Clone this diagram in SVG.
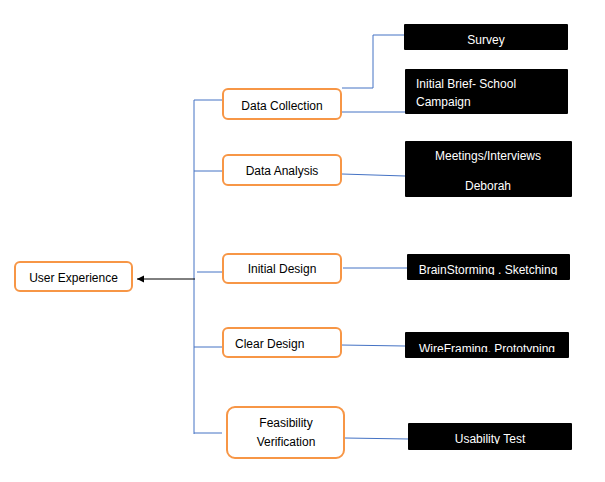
<svg xmlns="http://www.w3.org/2000/svg" width="605" height="482" viewBox="0 0 605 482">
<style>
.n{fill:#fff;stroke:#F79646;stroke-width:2}
.b{fill:#000}
.t{font-family:"Liberation Sans",Arial,sans-serif;font-size:12px;fill:#000}
.w{font-family:"Liberation Sans",Arial,sans-serif;font-size:12px;fill:#fff}
.c{fill:none;stroke:#4472C4;stroke-width:1}
</style>
<defs>
<marker id="ah" markerWidth="8" markerHeight="8" refX="7" refY="4" orient="auto" markerUnits="userSpaceOnUse">
<path d="M0,0.5 L7,4 L0,7.5 Z" fill="#000"/>
</marker>
<clipPath id="c1"><rect x="404" y="24" width="164" height="23"/></clipPath>
<clipPath id="c4"><rect x="407" y="254" width="163" height="21"/></clipPath>
<clipPath id="c5"><rect x="405" y="332" width="164" height="20"/></clipPath>
<clipPath id="c6"><rect x="408" y="423" width="164" height="21"/></clipPath>
</defs>
<g id="connectors">
<line class="c" x1="194" y1="100" x2="194" y2="434"/>
<line class="c" x1="194" y1="100" x2="222" y2="100"/>
<line class="c" x1="194" y1="171" x2="222" y2="171"/>
<line class="c" x1="197" y1="272" x2="222" y2="272"/>
<line class="c" x1="194" y1="347" x2="222" y2="347"/>
<line class="c" x1="194" y1="433" x2="222" y2="433"/>
<line x1="195" y1="279" x2="137" y2="279" stroke="#000" stroke-width="1" marker-end="url(#ah)"/>
<polyline class="c" points="342,88 373,88 373,35 404,35"/>
<line class="c" x1="342" y1="112" x2="405" y2="112"/>
<line class="c" x1="342" y1="174" x2="405" y2="176"/>
<line class="c" x1="343" y1="268" x2="407" y2="268"/>
<line class="c" x1="341" y1="345" x2="405" y2="346"/>
<line class="c" x1="345" y1="438" x2="409" y2="439"/>
</g>
<g id="ux"><rect class="n" x="15" y="262" width="117" height="29" rx="5"/><text class="t" x="73.5" y="282" text-anchor="middle">User Experience</text></g>
<g id="dc"><rect class="n" x="223" y="89" width="118" height="30" rx="5"/><text class="t" x="282" y="110" text-anchor="middle">Data Collection</text></g>
<g id="da"><rect class="n" x="223" y="155" width="118" height="30" rx="5"/><text class="t" x="282" y="175" text-anchor="middle">Data Analysis</text></g>
<g id="id"><rect class="n" x="223" y="254" width="118" height="29" rx="5"/><text class="t" x="282" y="273" text-anchor="middle">Initial Design</text></g>
<g id="cd"><rect class="n" x="223" y="328" width="118" height="29" rx="5"/><text class="t" x="235" y="348">Clear Design</text></g>
<g id="fv"><rect class="n" x="227" y="407" width="117" height="51" rx="8"/><text class="t" x="286" y="427" text-anchor="middle">Feasibility</text><text class="t" x="286" y="446" text-anchor="middle">Verification</text></g>
<g id="survey"><rect class="b" x="404" y="24" width="164" height="26" rx="1"/><text class="w" x="486" y="44" text-anchor="middle" clip-path="url(#c1)">Survey</text></g>
<g id="brief"><rect class="b" x="405" y="69" width="163" height="45" rx="1"/><text class="w" x="416" y="88">Initial Brief- School</text><text class="w" x="416" y="106">Campaign</text></g>
<g id="meet"><rect class="b" x="405" y="141" width="167" height="56" rx="1"/><text class="w" x="488" y="160" text-anchor="middle">Meetings/Interviews</text><text class="w" x="488" y="190" text-anchor="middle">Deborah</text></g>
<g id="brain"><rect class="b" x="407" y="254" width="163" height="26" rx="1"/><text class="w" x="488" y="274" text-anchor="middle" clip-path="url(#c4)">BrainStorming . Sketching</text></g>
<g id="wire"><rect class="b" x="405" y="332" width="164" height="26" rx="1"/><text class="w" x="487" y="353" text-anchor="middle" clip-path="url(#c5)">WireFraming. Prototyping</text></g>
<g id="usab"><rect class="b" x="408" y="423" width="164" height="27" rx="1"/><text class="w" x="490" y="443" text-anchor="middle" clip-path="url(#c6)">Usability Test</text></g>
</svg>
